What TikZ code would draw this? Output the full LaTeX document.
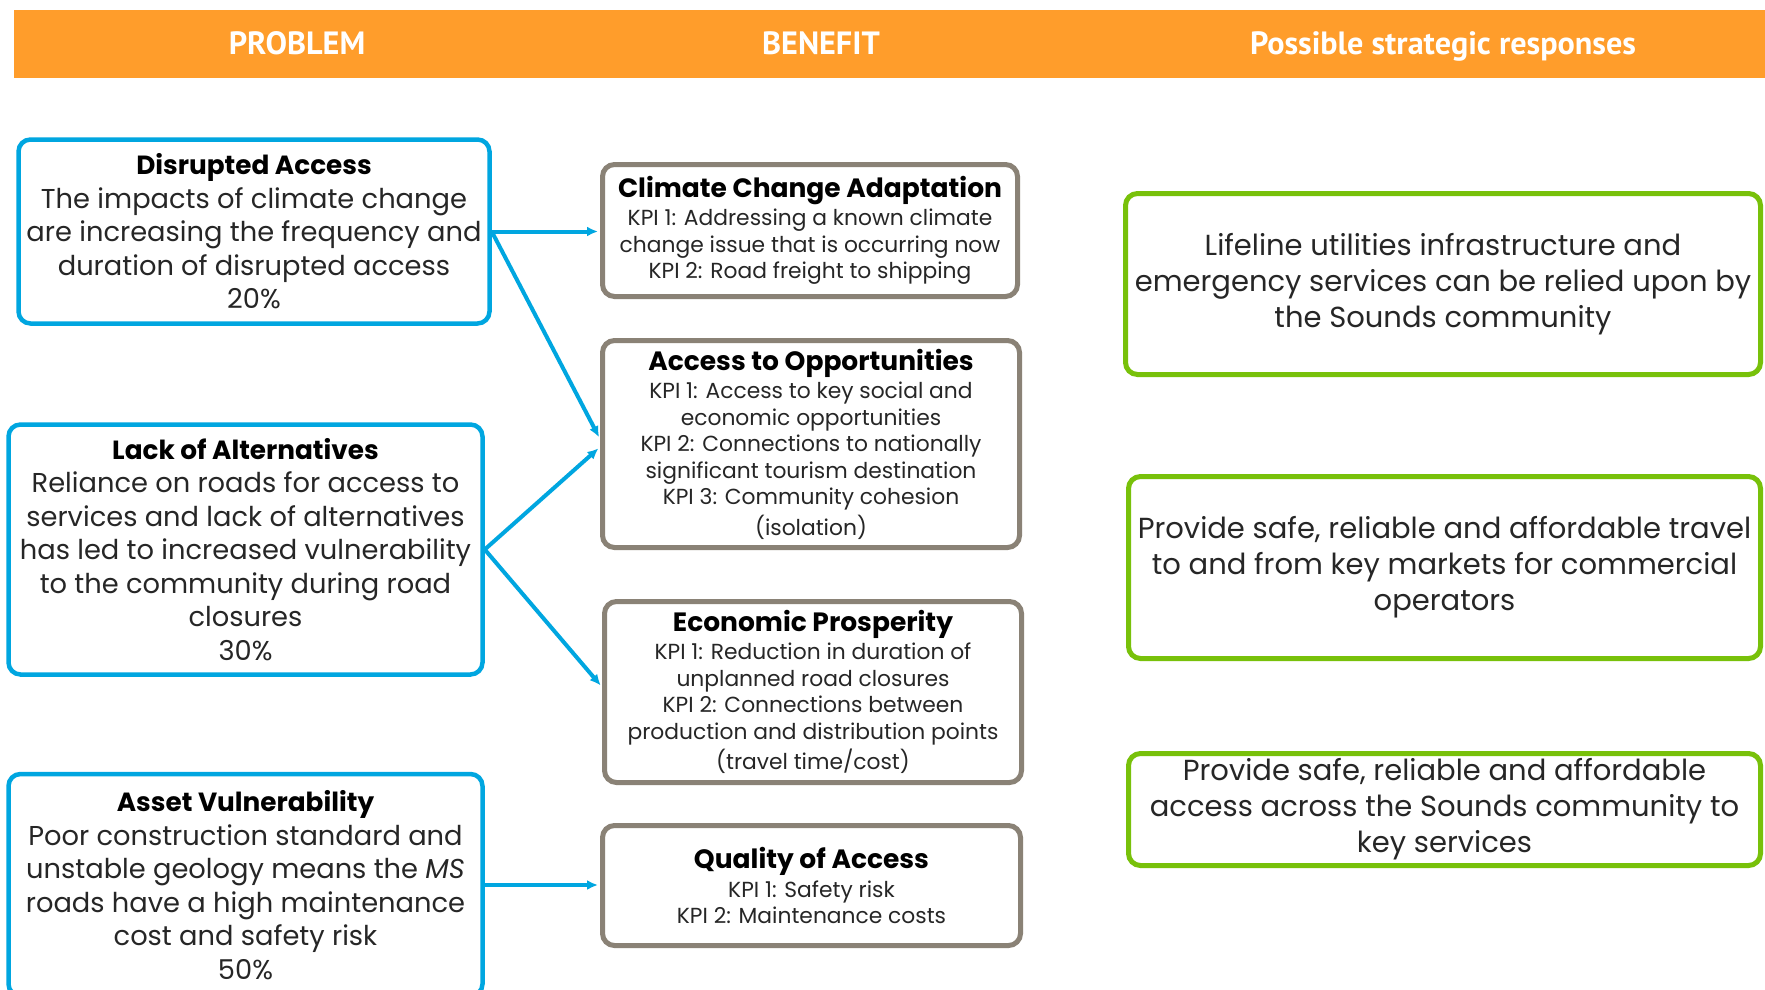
\documentclass[tikz,border=0pt]{standalone}
\usepackage{fontspec}
\setmainfont{Poppins}
\newfontfamily\headfont{PT Sans}
\usetikzlibrary{arrows.meta,calc}
\definecolor{hdr}{HTML}{FF9D2B}
\definecolor{pblue}{HTML}{00A6E0}
\definecolor{bgrey}{HTML}{8A8276}
\definecolor{sgreen}{HTML}{78C10A}
\definecolor{txt}{HTML}{262626}
\newcommand{\probtitle}[1]{{\fontsize{26.3}{33.5}\selectfont\bfseries\color{black}#1}}
\newcommand{\bentitle}[1]{{\fontsize{26.5}{29}\selectfont\bfseries\color{black}#1}}
\begin{document}
\begin{tikzpicture}[x=1pt,y=-1pt,
  probbox/.style={draw=pblue,line width=4.5pt,rounded corners=12pt,fill=white,align=center,inner sep=0pt,text=txt,font=\fontsize{27.3}{33.5}\selectfont},
  benbox/.style={draw=bgrey,line width=5pt,rounded corners=12pt,fill=white,align=center,inner sep=0pt,text=txt,font=\fontsize{21.8}{26.5}\selectfont},
  respbox/.style={draw=sgreen,line width=5pt,rounded corners=12pt,fill=white,align=center,inner sep=0pt,text=txt,font=\fontsize{29}{36}\selectfont},
  link/.style={draw=pblue,line width=4pt,shorten >=2pt,-{Latex[length=11pt,width=10pt]}},
  hdrtext/.style={text=white,anchor=base,inner sep=0pt,font=\headfont\bfseries\fontsize{32.2}{34}\selectfont}
]
\clip (0,0) rectangle (1765,990);
\fill[white] (0,0) rectangle (1765,990);
% header
\fill[hdr] (14,10) rectangle (1765,78);
\node[hdrtext] (hP) at (297,55) {PROBLEM};
\node[hdrtext] (hB) at (821,55) {BENEFIT};
\node[hdrtext] (hR) at (1443,55) {Possible strategic responses};

% problems
\node[probbox,minimum width=471pt,minimum height=184pt] (DA) at (254,231.5)
 {\probtitle{Disrupted Access}\\
  The impacts of climate change\\
  are increasing the frequency and\\
  duration of disrupted access\\
  20\%};
\node[probbox,minimum width=474pt,minimum height=250pt] (LA) at (245.5,549.5)
 {\probtitle{Lack of Alternatives}\\
  Reliance on roads for access to\\
  services and lack of alternatives\\
  has led to increased vulnerability\\
  to the community during road\\
  closures\\
  30\%};
\node[probbox,minimum width=474pt,minimum height=222pt] (AV) at (245.5,885)
 {\probtitle{Asset Vulnerability}\\
  Poor construction standard and\\
  unstable geology means the \textit{MS}\\
  roads have a high maintenance\\
  cost and safety risk\\
  50\%};

% benefits
\node[benbox,minimum width=415pt,minimum height=132pt] (CCA) at (810,230.5)
 {\bentitle{Climate Change Adaptation}\\[2pt]
  KPI 1: Addressing a known climate\\
  change issue that is occurring now\\
  KPI 2: Road freight to shipping};
\node[benbox,minimum width=417pt,minimum height=207pt] (AO) at (811,444)
 {\bentitle{Access to Opportunities}\\[2pt]
  KPI 1: Access to key social and\\
  economic opportunities\\
  KPI 2: Connections to nationally\\
  significant tourism destination\\
  KPI 3: Community cohesion\\[4pt]
  (isolation)};
\node[benbox,minimum width=417pt,minimum height=181pt] (EP) at (813,692)
 {\bentitle{Economic Prosperity}\\[2pt]
  KPI 1: Reduction in duration of\\
  unplanned road closures\\
  KPI 2: Connections between\\
  production and distribution points\\[4pt]
  (travel time/cost)};
\node[benbox,minimum width=418pt,minimum height=120pt] (QA) at (811.5,885.5)
 {\bentitle{Quality of Access}\\[2pt]
  KPI 1: Safety risk\\
  KPI 2: Maintenance costs};

% responses
\node[respbox,minimum width=635pt,minimum height=181pt] (R1) at (1443,284)
 {Lifeline utilities infrastructure and\\
  emergency services can be relied upon by\\
  the Sounds community};
\node[respbox,minimum width=632pt,minimum height=182pt] (R2) at (1444.5,567.5)
 {Provide safe, reliable and affordable travel\\
  to and from key markets for commercial\\
  operators};
\node[respbox,minimum width=632pt,minimum height=112pt] (R3) at (1444.5,809.5)
 {Provide safe, reliable and affordable\\
  access across the Sounds community to\\
  key services};

% connectors
\draw[link] (DA.east) -- (DA.east -| CCA.west);
\draw[link] (DA.east) -- ($(AO.west)+(0,-5)$);
\draw[link] (LA.east) -- ($(AO.west)+(0,3)$);
\draw[link] (LA.east) -- ($(EP.west)+(0,-5)$);
\draw[link] (AV.east) -- (AV.east -| QA.west);
\end{tikzpicture}
\end{document}
